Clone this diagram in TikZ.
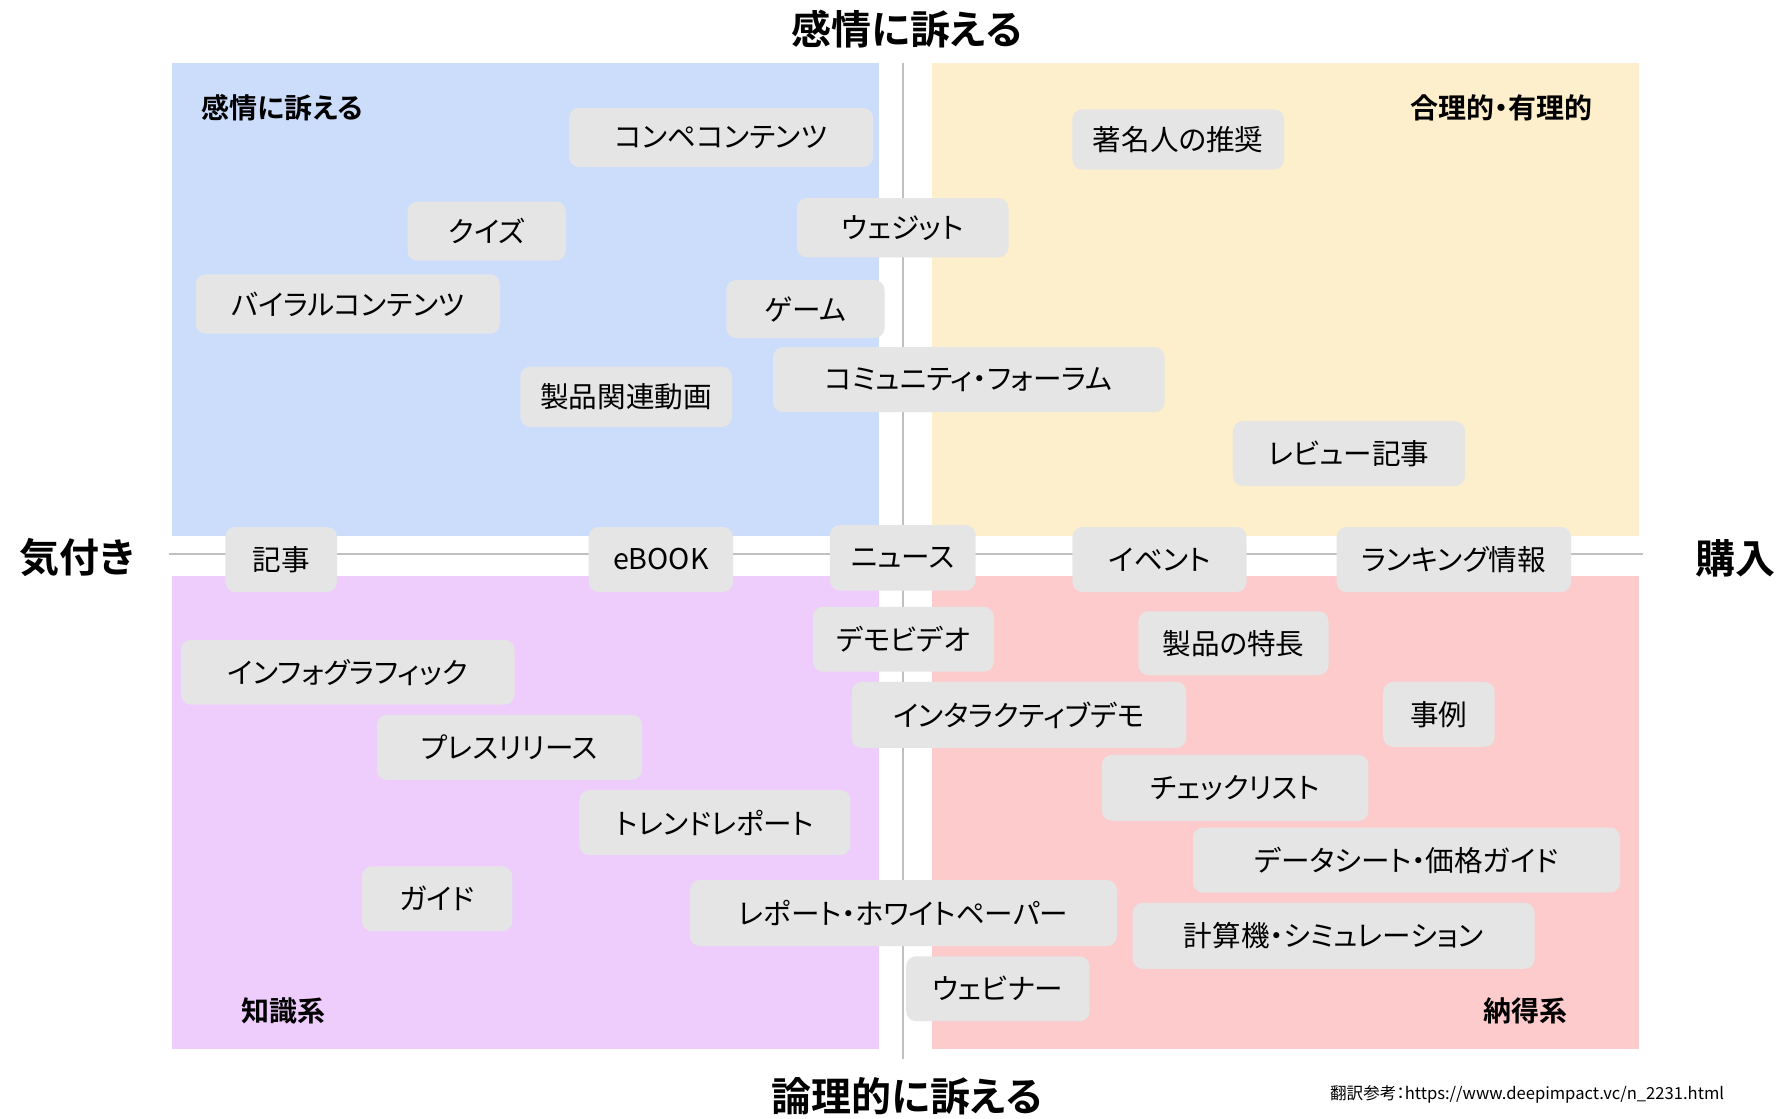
\documentclass[tikz,border=0pt]{standalone}
\usepackage{fontspec}
\setmainfont{Noto Sans CJK JP}[BoldFont={Noto Sans CJK JP Bold}, RawFeature=+palt]
\definecolor{qblue}{HTML}{CCDDFB}
\definecolor{qyellow}{HTML}{FDEFCC}
\definecolor{qpurple}{HTML}{EECCFC}
\definecolor{qred}{HTML}{FDCBCB}
\definecolor{bxgray}{HTML}{E5E5E5}
\definecolor{axisgray}{HTML}{C0C0C0}
\newcommand\bx[6]{\node[itembox, minimum width={(#4-#2)*0.5pt}, minimum height={(#5-#3)*0.5pt}] (#1) at ({(#2+#4)/2},{(#3+#5)/2}) {#6};}
\begin{document}
\begin{tikzpicture}[x=0.5pt, y=-0.5pt,
  itembox/.style={fill=bxgray, draw=none, rounded corners=5pt, inner sep=0pt, font=\fontsize{14.3}{16}\selectfont, text=black},
  axislabel/.style={font=\bfseries\fontsize{20}{22}\selectfont, inner sep=0pt},
  quadlabel/.style={font=\bfseries\fontsize{14}{16}\selectfont, inner sep=0pt},
  axisline/.style={draw=axisgray, line width=0.8pt}]
\useasboundingbox[fill=white] (0,0) rectangle (1785,1119);
% quadrants
\fill[qblue] (172,62.6) rectangle (879,536);
\fill[qyellow] (932,62.6) rectangle (1639,536);
\fill[qpurple] (172,576) rectangle (879,1049);
\fill[qred] (932,576) rectangle (1639,1049);
% axes
\coordinate (vtop) at (903,62.6);
\coordinate (vbot) at (903,1059);
\coordinate (hleft) at (169,554);
\coordinate (hright) at (1643,554);
\draw[axisline] (vtop) -- (vbot);
\draw[axisline] (hleft) -- (hright);
% boxes
\bx{b1}{569}{108}{873}{167}{コンペコンテンツ}
\bx{b2}{407.5}{201.5}{565.8}{260.7}{クイズ}
\bx{b3}{796.9}{198.1}{1008.6}{257.3}{ウェジット}
\bx{b4}{195.8}{274.4}{499.8}{333.6}{バイラルコンテンツ}
\bx{b5}{726.3}{280}{884.5}{338.1}{ゲーム}
\bx{b6}{773}{347.2}{1164.6}{412.1}{コミュニティ・フォーラム}
\bx{b7}{520.3}{366.6}{732}{426.9}{製品関連動画}
\bx{b8}{1072.4}{109.3}{1284.1}{169.6}{著名人の推奨}
\bx{b9}{1232.9}{421.2}{1465.1}{486.1}{レビュー記事}
\bx{b10}{225.4}{527}{337}{592}{記事}
\bx{b11}{588.6}{527}{733.1}{592}{eBOOK}
\bx{b12}{829.9}{525}{975.6}{590.5}{ニュース}
\bx{b13}{1072.4}{527}{1246.5}{592}{イベント}
\bx{b14}{1336.5}{527}{1571}{592}{ランキング情報}
\bx{b15}{812.8}{606.8}{993.8}{671.7}{デモビデオ}
\bx{b16}{1138.4}{611.3}{1328.5}{675.1}{製品の特長}
\bx{b17}{181}{639.8}{514.6}{704.7}{インフォグラフィック}
\bx{b18}{851.5}{681.9}{1186.2}{747.9}{インタラクティブデモ}
\bx{b19}{1383.2}{681.9}{1494.7}{746.8}{事例}
\bx{b20}{376.8}{714.9}{642.1}{779.8}{プレスリリース}
\bx{b21}{1102}{754.8}{1368.4}{820.8}{チェックリスト}
\bx{b22}{579.4}{790.1}{850.4}{855}{トレンドレポート}
\bx{b23}{1193}{827.6}{1620}{892.5}{データシート・価格ガイド}
\bx{b24}{362}{866.3}{512.3}{931.2}{ガイド}
\bx{b25}{689.9}{880}{1116.8}{946}{レポート・ホワイトペーパー}
\bx{b26}{1132.7}{902.8}{1534.6}{968.8}{計算機・シミュレーション}
\bx{b27}{906.2}{956.3}{1089.5}{1021.2}{ウェビナー}
% axis labels
\node[axislabel] (ttop) at (907,29) {感情に訴える};
\node[axislabel] (tbot) at (907,1096) {論理的に訴える};
\node[axislabel] (tleft) at (77,558) {気付き};
\node[axislabel] (tright) at (1735,558) {購入};
% quadrant labels
\node[quadlabel, anchor=west] (q1) at (201.5,108) {感情に訴える};
\node[quadlabel, anchor=east] (q2) at (1592.6,108) {合理的・有理的};
\node[quadlabel, anchor=west] (q3) at (241.3,1011) {知識系};
\node[quadlabel, anchor=east] (q4) at (1567.6,1011) {納得系};
% footer
\node[anchor=west, inner sep=0pt, font=\fontsize{8.3}{10}\selectfont] (src) at (1329.7,1094) {翻訳参考：https://www.deepimpact.vc/n\_2231.html};
\end{tikzpicture}
\end{document}
